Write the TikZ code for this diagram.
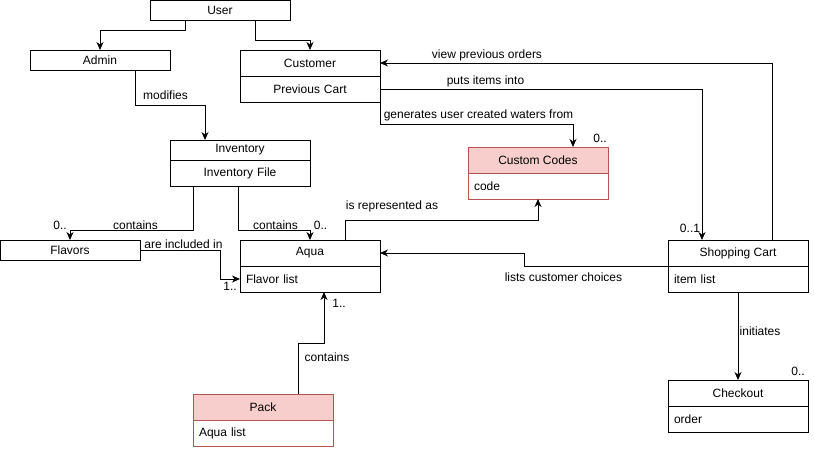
\documentclass[tikz,border=0pt]{standalone}
\usepackage{fontspec}
\setmainfont{Liberation Sans}
\usepackage{tikz}
\usetikzlibrary{positioning}
\usetikzlibrary{arrows.meta}
\usepackage{xcolor}
\definecolor{codefill}{HTML}{F8CECC}
\definecolor{codeline}{HTML}{B85450}

\begin{document}
\begin{tikzpicture}[x=1pt, y=-1pt, font=\fontsize{12pt}{14pt}\selectfont]
        % ================= 样式定义 =================
        \tikzset{
            % 类名框:宽 140,高 26(简单框高 20)
            cls/.style={rectangle, draw=black, line width=1pt, fill=white, minimum width=140pt, minimum height=26pt, inner sep=0pt, outer sep=0pt, anchor=north west},
            small/.style={minimum height=20pt},
            % 属性框:文字左对齐
            attr/.style={rectangle, draw=black, line width=1pt, fill=white, minimum width=140pt, minimum height=26pt, text width=128pt, inner xsep=6pt, inner ysep=0pt, outer sep=0pt, align=left},
            mid/.style={align=center},
            hot/.style={fill=codefill, draw=codeline},
            hotline/.style={draw=codeline},
            edge/.style={line width=1pt, black, -{Stealth[length=8pt, width=7pt, inset=2.5pt]}},
            lbl/.style={inner sep=0pt}
        }
        \useasboundingbox (0,0) rectangle (814,450);

        % ================= 类框 =================
        % 1. 顶部 User / Admin / Customer
        \node[cls, small] (user) at (150,0) {User};
        \node[cls, small] (admin) at (30,50) {Admin};
        \node[cls] (customer) at (240,50) {Customer};
        \node[attr, mid, below=0pt of customer] (custb) {Previous Cart};

        % 2. 中部 Inventory / Custom Codes
        \node[cls, small] (inv) at (170,140) {Inventory};
        \node[attr, mid, below=0pt of inv] (invb) {Inventory File};
        \node[cls, hot] (codes) at (468,147) {Custom Codes};
        \node[attr, hotline, below=0pt of codes] (codesb) {code};

        % 3. Flavors / Aqua / Shopping Cart
        \node[cls, small] (flavors) at (0,240) {Flavors};
        \node[cls] (aqua) at (240,240) {Aqua};
        \node[attr, below=0pt of aqua] (aquab) {Flavor list};
        \node[cls] (cart) at (668,240) {Shopping Cart};
        \node[attr, below=0pt of cart] (cartb) {item list};

        % 4. 底部 Pack / Checkout
        \node[cls, hot] (pack) at (193,394) {Pack};
        \node[attr, hotline, below=0pt of pack] (packb) {Aqua list};
        \node[cls] (checkout) at (668,380) {Checkout};
        \node[attr, below=0pt of checkout] (checkb) {order};

        % ================= 连线 =================
        \draw[edge] ([xshift=-35pt]user.south) -- ++(0,10) -| (admin.north);
        \draw[edge] ([xshift=35pt]user.south) -- ++(0,20) -| (customer.north);
        \draw[edge] ([xshift=35pt]admin.south) -- ++(0,35) -| ([xshift=-35pt]inv.north);
        \draw[edge] ([xshift=34pt]cart.north) |- (customer.east);
        \draw[edge] (custb.east) -| ([xshift=-36pt]cart.north);
        \draw[edge] (custb.south east) -- ++(0,22) -| ([xshift=35pt]codes.north);
        \draw[edge] ([xshift=-47pt]invb.south) -- ++(0,44) -| (flavors.north);
        \draw[edge] ([xshift=-2pt]invb.south) -- ++(0,44) -| (aqua.north);
        \draw[edge] (flavors.east) -- ++(80,0) |- (aquab.west);
        \draw[edge] ([xshift=35pt]aqua.north) -- ++(0,-20) -| (codesb.south);
        \draw[edge] (cart.south west) -- ++(-144,0) |- (aqua.east);
        \draw[edge] ([xshift=35pt]pack.north) -- ++(0,-51) -| ([xshift=14pt]aquab.south);
        \draw[edge] (cartb.south) -- (checkout.north);

        % ================= 标签 =================
        \node[lbl, anchor=west] (lmod) at (143,95) {modifies};
        \node[lbl] (lview) at (487,55) {view previous orders};
        \node[lbl] (lputs) at (485.5,81) {puts items into};
        \node[lbl] (lgen) at (478.5,115) {generates user created waters from};
        \node[lbl] (mcodes) at (600,138) {0..};
        \node[lbl] (lcontf) at (135.5,225) {contains};
        \node[lbl] (mflav) at (60,225) {0..};
        \node[lbl] (lconta) at (275.5,225) {contains};
        \node[lbl] (maqua) at (320.5,225) {0..};
        \node[lbl] (lincl) at (183.5,244) {are included in};
        \node[lbl] (mincl) at (230,286) {1..};
        \node[lbl] (lrep) at (392,206) {is represented as};
        \node[lbl] (mcart) at (690,228) {0..1};
        \node[lbl] (llist) at (563.5,277) {lists customer choices};
        \node[lbl] (mpack) at (339,303) {1..};
        \node[lbl] (lcontp) at (327,357) {contains};
        \node[lbl] (linit) at (760,331) {initiates};
        \node[lbl] (mcheck) at (798,371) {0..};

    \end{tikzpicture}
\end{document}
